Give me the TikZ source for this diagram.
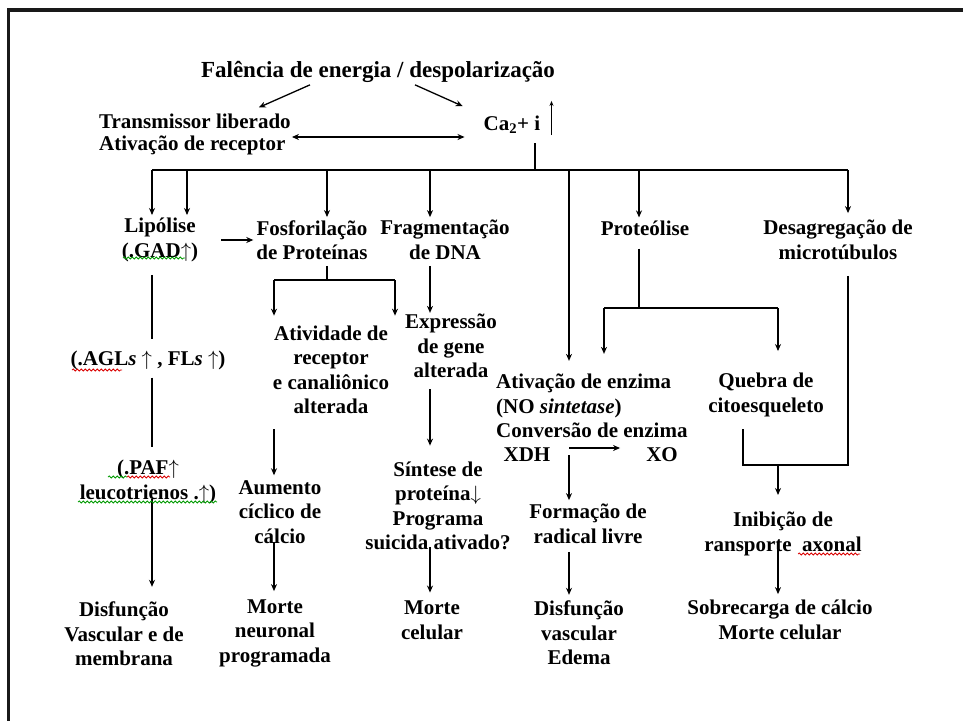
\documentclass[tikz,border=0pt]{standalone}
\usepackage{fontspec}
\setmainfont{Liberation Serif}
\usetikzlibrary{positioning,arrows.meta,decorations.pathmorphing}

\begin{document}
\begin{tikzpicture}[x=1pt,y=-1pt,
    txt/.style={font=\fontsize{21}{24.5}\selectfont\bfseries, align=center, inner sep=1pt},
    ln/.style={line width=1.3pt},
    arr/.style={ln, -{Stealth[length=7pt,width=6pt]}, shorten >=2pt},
    spell/.style={line width=0.8pt, decorate, decoration={snake, segment length=4pt, amplitude=1pt}}]
    \useasboundingbox (0,0) rectangle (963,720);
    % Frame
    \draw[line width=3.8pt, black!90] (8.5,740) -- (8.5,10) -- (980,10);

    % Top nodes
    \node[txt, font=\fontsize{23}{27}\selectfont\bfseries] (fal) at (378,72) {Falência de energia / despolarização};
    \node[txt, font=\fontsize{21}{22}\selectfont\bfseries, align=left, anchor=west] (trans) at (98,134) {Transmissor liberado\\Ativação de receptor};
    \node[txt] (ca) at (512,125) {Ca\textsubscript{2}+ i};

    % Second row
    \node[txt] (lip) at (160,240) {Lipólise\\(.GAD$\uparrow$)};
    \node[txt] (fos) at (312,240) {Fosforilação\\de Proteínas};
    \node[txt] (frag) at (445,240) {Fragmentação\\de DNA};
    \node[txt] (prot) at (645,228) {Proteólise};
    \node[txt] (desag) at (838,240) {Desagregação de\\microtúbulos};

    % Middle nodes
    \node[txt] (agl) at (148,360) {(.AGL\textit{s} $\uparrow$ , FL\textit{s} $\uparrow$)};
    \node[txt] (paf) at (148,482) {(.PAF$\uparrow$\\leucotrienos .$\uparrow$)};
    \node[txt] (ativ) at (331,370) {Atividade de\\receptor\\e canaliônico\\alterada};
    \node[txt] (expr) at (451,346) {Expressão\\de gene\\alterada};
    \node[txt, align=left, anchor=west] (enz) at (495,406) {Ativação de enzima\\(NO \textit{sintetase})\\Conversão de enzima};
    \node[txt] (xdh) at (527,455) {XDH};
    \node[txt] (xo) at (662,455) {XO};
    \node[txt] (queb) at (766,395) {Quebra de\\citoesqueleto};
    \node[txt] (aum) at (280,512) {Aumento\\cíclico de\\cálcio};
    \node[txt] (sint) at (438,506) {Síntese de\\proteína$\downarrow$\\Programa\\suicida ativado?};
    \node[txt] (form) at (588,524) {Formação de\\radical livre};
    \node[txt] (inib) at (783,534) {Inibição de\\ransporte\ \ axonal};

    % Bottom row
    \node[txt] (disfa) at (124,634) {Disfunção\\Vascular e de\\membrana};
    \node[txt] (mortea) at (275,633) {Morte\\neuronal\\programada};
    \node[txt] (morteb) at (432,620) {Morte\\celular};
    \node[txt] (disfb) at (579,633) {Disfunção\\vascular\\Edema};
    \node[txt] (sobre) at (780,620) {Sobrecarga de cálcio\\Morte celular};

    % Top arrows
    \draw[arr] ([xshift=-68pt,yshift=-1pt]fal.south) -- ([xshift=62pt,yshift=4pt]trans.north);
    \draw[arr] ([xshift=37pt,yshift=-1pt]fal.south) -- ([xshift=-18pt,yshift=8pt]ca.north west);
    \draw[ln, {Stealth[length=7pt,width=6pt]}-{Stealth[length=7pt,width=6pt]}, shorten >=18pt]
        ([yshift=-3pt]trans.east) -- ([yshift=-3pt]trans.east -| ca.west);
    \draw[line width=1pt, -{Stealth[length=5pt,width=4pt]}] ([xshift=10pt]ca.south east) -- ([xshift=10pt,yshift=14pt]ca.north east);

    % Bus under Ca
    \coordinate (busca) at (535,170);
    \foreach \x [count=\i] in {152,187,327,430,569,639,848}
        \coordinate (d\i) at (\x,170);
    \draw[ln, shorten <=8pt] (busca |- ca.south) -- (busca);
    \draw[ln] (d1) -- (d7);
    \foreach \i/\n/\s in {1/lip/2,2/lip/2,3/fos/2,4/frag/2,5/enz/12,6/prot/2,7/desag/6}
        \draw[arr, shorten >=\s pt] (d\i) -- (d\i |- \n.north);

    % Lipolysis column
    \draw[arr, shorten <=22pt] (lip.east) -- (fos.west);
    \draw[ln, shorten <=12pt, shorten >=10pt] (d1 |- lip.south) -- (d1 |- agl.north);
    \draw[ln, shorten <=7pt, shorten >=12pt] (d1 |- agl.south) -- (d1 |- paf.north);
    \draw[arr, shorten <=-6pt, shorten >=14pt] (d1 |- paf.south) -- (d1 |- disfa.north);

    % Phosphorylation split
    \coordinate (fsp) at (327,280);
    \coordinate (fl) at (274,280);
    \coordinate (fr) at (395,280);
    \draw[ln, shorten <=5pt] (fsp |- fos.south) -- (fsp);
    \draw[ln] (fl) -- (fr);
    \draw[arr, shorten >=9pt] (fl) -- (fl |- ativ.north);
    \draw[arr, shorten >=9pt] (fr) -- (fr |- ativ.north);
    \draw[arr, shorten <=14pt, shorten >=4pt] (fl |- ativ.south) -- (fl |- aum.north);
    \draw[arr, shorten <=-3pt, shorten >=7pt] (fl |- aum.south) -- (fl |- mortea.north);

    % DNA column
    \draw[arr, shorten <=5pt, shorten >=0pt] (d4 |- frag.south) -- (d4 |- expr.north);
    \draw[arr, shorten <=10pt, shorten >=15pt] (d4 |- expr.south) -- (d4 |- sint.north);
    \draw[arr, shorten <=-4pt, shorten >=7pt] (d4 |- sint.south) -- (d4 |- morteb.north);

    % Proteolysis split
    \coordinate (psp) at (639,308);
    \coordinate (pl) at (604,308);
    \coordinate (pr) at (778,308);
    \draw[ln, shorten <=12pt] (psp |- prot.south) -- (psp);
    \draw[ln] (pl) -- (pr);
    \draw[arr, shorten >=19pt] (pl) -- (pl |- enz.north);
    \draw[arr, shorten >=21pt] (pr) -- (pr |- queb.north);

    % Enzyme conversion
    \coordinate (cv) at (569,448);
    \draw[arr, shorten >=25pt] (cv) -- (cv -| xo.west);
    \draw[arr, shorten <=7pt, shorten >=3pt] (cv) -- (cv |- form.north);
    \draw[arr, shorten <=7pt, shorten >=5pt] (d5 |- form.south) -- (d5 |- disfb.north);

    % Microtubule column
    \coordinate (qj) at (743,465);
    \coordinate (dj) at (848,465);
    \coordinate (ij) at (778,465);
    \draw[ln, shorten <=15pt, shorten >=11pt] (d7 |- desag.south) -- (dj) -- (qj) -- (qj |- queb.south);
    \draw[arr, shorten >=16pt] (ij) -- (ij |- inib.north);
    \draw[arr, shorten <=-12pt, shorten >=5pt] (ij |- inib.south) -- (ij |- sobre.north);

    % Spelling marks
    \draw[spell, green!60!black] (123,258) -- (185,258);
    \draw[spell, red!85!black] (72,370) -- (122,370);
    \draw[spell, green!60!black] (108,477) -- (127,477);
    \draw[spell, red!85!black] (127,477) -- (170,477);
    \draw[spell, green!60!black] (78,502) -- (217,502);
    \draw[spell, red!85!black] (798,554) -- (860,554);
\end{tikzpicture}
\end{document}
